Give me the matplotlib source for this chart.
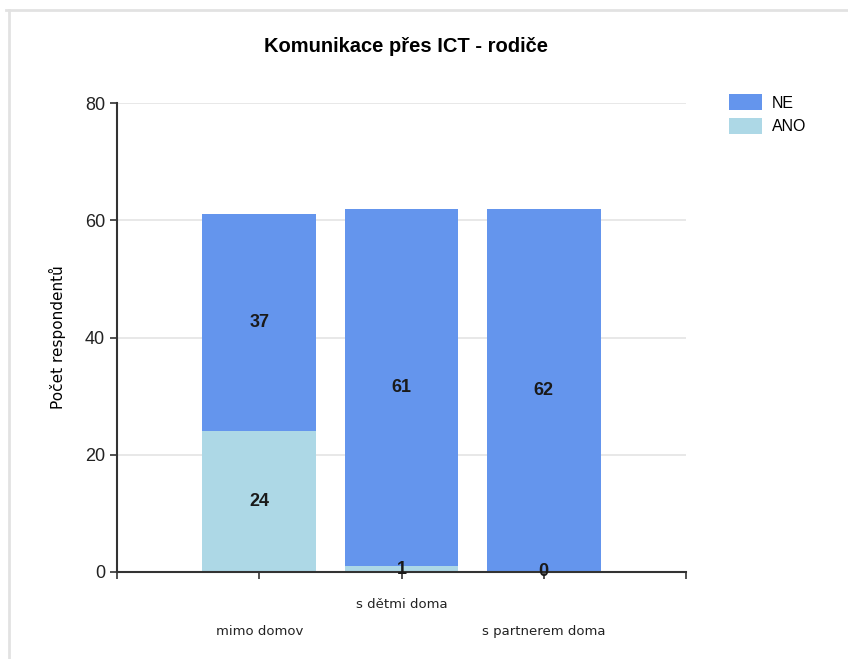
import numpy as np
import matplotlib
matplotlib.use('Agg')
import matplotlib.pyplot as plt
from matplotlib.lines import Line2D

plt.rcParams['font.family'] = ['Liberation Sans Narrow', 'Liberation Sans', 'DejaVu Sans']

#%% data
categories = ['mimo domov', 's dětmi doma', 's partnerem doma']
ano = [24, 1, 0]
ne = [37, 61, 62]
series_names = ['NE', 'ANO']
yticks = [0, 20, 40, 60, 80]

#%% figure
fig = plt.figure(figsize=(8.48, 6.59), dpi=100)
ax = fig.add_axes([117 / 848, 1 - 572 / 659, (686 - 117) / 848, (572 - 103) / 659])

# light frame around the chart (top and left only)
fig.add_artist(Line2D([6 / 848, 1], [1 - 9.5 / 659, 1 - 9.5 / 659], color='#e2e2e2', lw=2))
fig.add_artist(Line2D([9 / 848, 9 / 848], [0, 1 - 9.5 / 659], color='#e2e2e2', lw=2))

x = np.arange(len(categories))
c_ne = '#6495ED'
c_ano = '#ADD8E6'

b_ano = ax.bar(x, ano, width=0.8, color=c_ano, zorder=2, label='ANO')
b_ne = ax.bar(x, ne, width=0.8, bottom=ano, color=c_ne, zorder=2, label='NE')

for i in range(len(categories)):
    ax.text(x[i], ano[i] / 2, str(ano[i]), ha='center', va='center',
            fontsize=13, fontweight='bold', color='#1a1a1a', zorder=3)
    ax.text(x[i], ano[i] + ne[i] / 2, str(ne[i]), ha='center', va='center',
            fontsize=13, fontweight='bold', color='#1a1a1a', zorder=3)

ax.set_xlim(-1, 3)
ax.set_ylim(0, 80)
ax.set_yticks(yticks)
ax.set_yticklabels([str(v) for v in yticks], fontsize=13, color='#222222')
ax.yaxis.grid(True, color='#e4e4e4', lw=1.2, zorder=0)
ax.set_axisbelow(True)

ax.set_xticks([-1, 0, 1, 2, 3])
ax.set_xticklabels([])
for i, lab in enumerate(categories):
    dy = -0.055 if i % 2 == 1 else -0.112
    ax.text(x[i], dy, lab, transform=ax.get_xaxis_transform(), ha='center', va='top',
            fontsize=9.5, color='#222222', family=['DejaVu Sans'])

ax.tick_params(axis='both', direction='out', length=5, width=1.2, color='#333333')
for s in ['top', 'right']:
    ax.spines[s].set_visible(False)
for s in ['left', 'bottom']:
    ax.spines[s].set_color('#333333')
    ax.spines[s].set_linewidth(1.5)

ax.set_ylabel('Počet respondentů', fontsize=11, family=['DejaVu Sans'], labelpad=14)

fig.text((117 + 686) / 2 / 848 + 0.005, 1 - 47 / 659, 'Komunikace přes ICT - rodiče',
         ha='center', va='center', fontsize=14.5, fontweight='bold')

ax.legend(handles=[b_ne, b_ano], labels=series_names, loc='upper left',
          bbox_to_anchor=(1.05, 1.05), frameon=False, fontsize=11.5,
          handlelength=2.1, handleheight=1.2, handletextpad=0.6, labelspacing=0.45)

fig.savefig('out.png', dpi=100)
